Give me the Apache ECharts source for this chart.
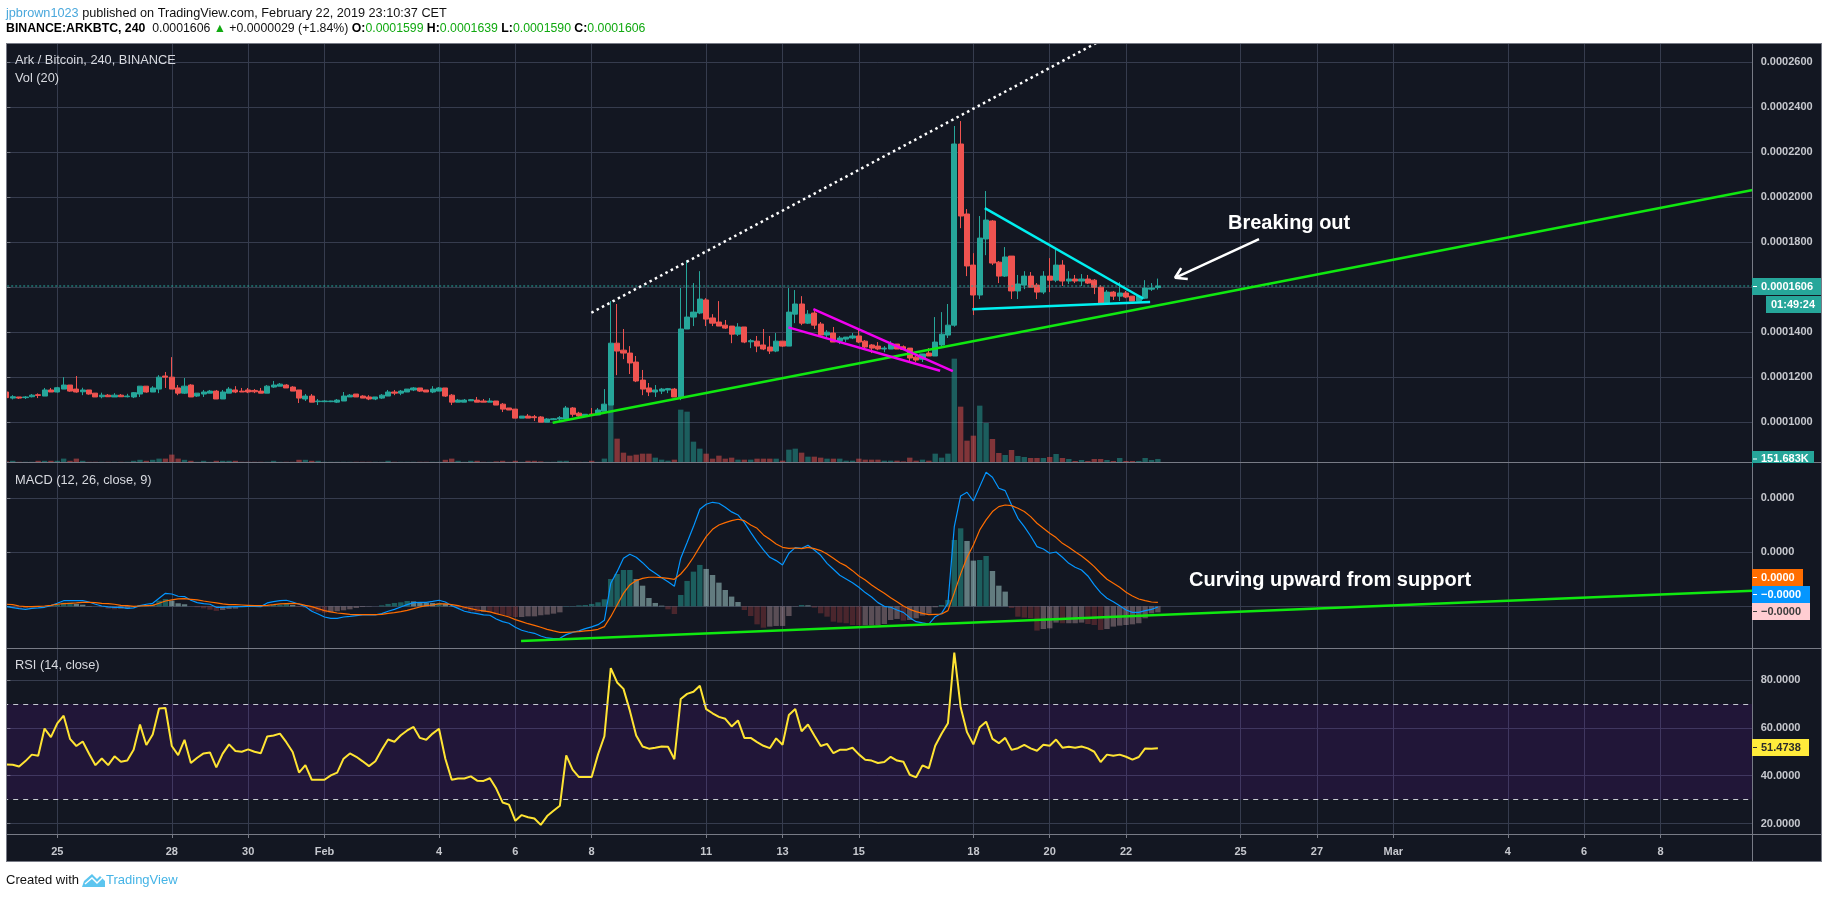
<!DOCTYPE html>
<html><head><meta charset="utf-8">
<style>html,body{margin:0;padding:0;background:#fff}#c{width:1828px;height:898px}</style>
<script src="https://cdn.jsdelivr.net/npm/echarts@6/dist/echarts.min.js"></script>
</head><body><div id="c"></div>
<script>
// All prices and MACD values are in satoshi (1e-8 BTC); volumes in thousands.
const opens=[11350,11080,11130,11100,11140,11230,11170,11440,11350,11480,
11660,11480,11360,11440,11300,11140,11210,11130,11210,11140,
11130,11260,11610,11350,11480,12060,12010,11530,11300,11660,
11170,11260,11300,11390,11040,11300,11440,11390,11440,11420,
11390,11300,11570,11610,11660,11570,11440,11040,11170,10920,
10920,10920,10900,10950,11130,11260,11170,11130,11040,11080,
11170,11350,11300,11350,11440,11530,11440,11350,11390,11530,
11210,10900,10900,10960,10990,10950,10900,10950,10810,10640,
10590,10190,10280,10250,10240,10010,10120,10150,10150,10640,
10410,10280,10370,10330,10500,10770,13520,13210,13080,12680,
11880,11530,11350,11390,11440,11480,11130,14150,14680,14860,
15440,14640,14460,14320,14280,13920,14240,13580,13610,13440,
13350,13170,13610,13390,14810,15260,14410,14860,14370,13880,
13970,13610,13700,13750,13840,13610,13440,13390,13260,13260,
13480,13360,13300,12900,12810,13080,12950,13440,13880,14320,
22370,19260,16990,15660,18150,18950,17120,16500,17390,15840,
16100,16500,16100,15790,16500,16320,16990,16280,16370,16280,
16370,16320,16010,15300,15790,15610,15750,15610,15390,15520,
15920,15990];
const highs=[11350,11210,11130,11170,11260,11290,11530,11530,11580,12010,
11660,12060,11540,11440,11300,11320,11260,11300,11260,11270,
11350,11610,11610,11610,12100,12240,12900,11660,11970,11700,
11300,11440,11440,11440,11440,11570,11610,11530,11530,11480,
11530,11660,11840,11750,11700,11610,11440,11260,11260,11040,
10990,10960,11040,11350,11260,11260,11210,11210,11130,11260,
11440,11440,11440,11480,11570,11530,11440,11610,11570,11530,
11260,11040,11040,11040,11130,11040,11080,10950,10860,10640,
10590,10280,10370,10330,10280,10190,10190,10280,10730,10680,
10470,10360,10640,10640,11480,15390,15260,14150,13390,12950,
12330,11750,11660,11530,11530,11530,15970,17210,16190,16720,
15520,14810,15390,14550,14280,14410,14240,13700,13840,14150,
13840,13970,13610,15970,15880,15610,14990,14950,14460,14100,
14240,13840,13790,13970,14150,13660,13480,13570,13390,13610,
13480,13420,13300,12950,13040,13300,14680,14900,15260,23170,
23390,19480,17520,19170,20280,18990,17170,17790,17390,16550,
16720,16680,16190,16720,17300,17750,17210,16720,16550,16590,
16550,16370,16100,15880,15840,16230,15840,15610,15610,16320,
16190,16390];
const lows=[11100,11020,11040,11040,11110,11080,11170,11350,11330,11480,
11360,11320,11210,11230,11130,11070,11130,11130,11130,11110,
11080,11130,11320,11350,11300,11530,11480,11210,11260,11130,
11130,11130,11300,11040,11040,11300,11300,11350,11300,11300,
11300,11300,11530,11610,11530,11390,10860,10950,10900,10770,
10900,10900,10860,10950,11130,11130,11080,10990,10990,11040,
11170,11210,11210,11350,11390,11350,11350,11300,11390,11130,
10770,10900,10900,10950,10900,10900,10900,10770,10460,10550,
10190,10190,10190,10060,10010,10010,10100,10060,10150,10250,
10210,10280,10310,10330,10500,10770,12100,12810,12150,11790,
11210,11170,11130,11260,11300,11130,10990,14150,14280,14810,
14280,14280,14280,14150,13520,13840,13520,13300,13120,13210,
13040,13120,13350,13390,14410,14320,14370,14150,13840,13750,
13570,13480,13570,13700,13520,13300,13080,13210,13120,13260,
13260,13240,12680,12680,12680,12950,12950,13350,13750,14250,
18630,16500,14770,15480,17430,16990,16190,16460,15480,15480,
15920,16010,15480,15700,15790,16230,16060,16150,16190,16060,
16150,15700,15260,15260,15440,15390,15520,15390,15390,15480,
15840,15900];
const closes=[11100,11140,11080,11130,11210,11200,11440,11350,11540,11660,
11390,11350,11440,11260,11130,11210,11140,11210,11140,11170,
11320,11610,11350,11530,12010,12010,11480,11300,11610,11130,
11300,11350,11390,11040,11350,11480,11350,11350,11350,11360,
11300,11610,11660,11700,11530,11390,11080,11170,10900,10950,
10950,10950,10990,11170,11210,11130,11080,11040,11130,11210,
11350,11300,11390,11480,11530,11390,11350,11480,11530,11170,
10900,10990,10990,11010,10900,10900,10950,10770,10590,10550,
10190,10280,10190,10210,10010,10150,10160,10210,10640,10360,
10280,10360,10330,10550,10810,13520,13170,13080,12640,11840,
11480,11350,11440,11480,11500,11130,14150,14680,14900,15480,
14590,14410,14280,14190,13920,14240,13570,13630,13390,13260,
13170,13610,13390,14900,15260,14410,14810,14320,13880,14010,
13570,13750,13790,13840,13570,13350,13300,13260,13300,13480,
13260,13240,12860,12770,13040,12950,13570,13920,14320,22370,
19170,16950,15660,18190,18990,17080,16500,17350,15840,16150,
16500,16010,15790,16500,16320,16990,16280,16370,16280,16370,
16190,16010,15300,15790,15610,15750,15570,15390,15610,15970,
15970,16060];
const volumes=[30,60,10,10,10,60,60,60,60,170,
60,170,60,10,10,10,10,10,10,10,
60,110,60,110,170,170,370,170,110,60,
10,60,10,60,60,60,60,10,10,10,
10,10,60,10,10,10,110,110,60,60,
10,10,10,10,10,10,10,10,10,10,
60,10,10,10,10,10,10,10,10,110,
170,60,10,60,60,10,10,30,60,10,
60,10,60,60,30,10,10,60,60,10,
10,10,60,10,170,2867,1167,467,317,367,
417,417,217,117,67,117,2617,2517,1017,667,
417,167,317,167,217,117,117,117,167,167,
167,167,67,617,667,467,267,267,217,167,
167,167,67,67,167,117,117,117,67,67,
67,30,217,67,117,67,417,217,417,5167,
2767,1067,1317,2817,1950,1150,450,350,600,300,
250,200,200,200,250,400,200,150,50,100,
50,150,150,100,50,200,50,50,50,200,
100,152];
const macdLine=[-3,-12,-22,-28,-19,-15,-9,6,28,52,
52,52,52,40,19,3,-6,-9,-9,-19,
-15,6,19,28,74,120,114,93,90,56,
34,25,19,-9,-9,-6,-3,-3,0,0,
-3,31,43,52,56,40,19,-3,-46,-71,
-99,-111,-111,-99,-93,-86,-80,-80,-80,-68,
-46,-28,-6,15,34,37,37,46,56,40,
6,-19,-46,-59,-68,-80,-83,-117,-142,-157,
-194,-222,-238,-250,-275,-293,-299,-296,-262,-241,
-228,-207,-191,-170,-130,213,321,445,482,454,
404,346,306,265,228,185,445,590,738,898,
945,963,954,917,874,846,775,685,599,522,
454,423,383,491,543,537,565,522,472,398,
343,287,253,219,176,127,86,34,0,-9,
-34,-56,-105,-142,-154,-164,-96,-65,28,738,
1022,1056,975,1108,1241,1195,1093,1071,938,815,
738,651,553,531,491,503,454,398,361,336,
281,198,127,74,43,6,-34,-56,-56,-40,
-28,-6];
const signalLine=[19,15,3,-3,-3,0,3,9,19,25,
28,31,37,37,34,28,25,19,9,6,
0,3,6,9,28,49,59,68,71,65,
59,49,40,31,22,15,15,12,9,6,
6,9,15,22,25,28,22,9,-3,-22,
-40,-52,-62,-68,-74,-77,-77,-77,-77,-74,
-65,-59,-49,-37,-22,-6,6,12,22,22,
15,6,-9,-22,-34,-43,-52,-68,-83,-99,
-123,-142,-161,-176,-194,-213,-228,-241,-241,-238,
-235,-228,-222,-213,-188,-96,12,120,198,238,
259,269,269,265,259,250,299,367,454,553,
645,713,753,775,793,806,793,753,722,661,
620,577,546,537,540,534,546,534,516,485,
445,404,374,330,281,244,198,157,120,80,
43,3,-28,-49,-65,-77,-74,-71,-40,124,
300,451,568,707,800,877,923,938,932,908,
877,830,769,722,676,636,583,546,506,466,
420,367,306,250,213,176,130,96,68,52,
40,37];
const histogram=[-3,-15,-22,-12,-9,-3,0,3,15,34,
34,22,15,3,0,-9,-22,-28,-22,-22,
-3,12,12,19,52,68,52,28,19,0,
-9,-19,-31,-43,-34,-25,-22,-6,-3,-3,
-6,3,12,15,22,12,-6,-12,-43,-49,
-59,-56,-46,-37,-28,-15,-6,-3,0,9,
22,31,37,49,46,37,34,31,31,22,
3,-15,-28,-46,-56,-52,-56,-71,-80,-93,
-99,-99,-93,-93,-83,-77,-68,-56,3,3,
9,12,22,37,65,253,299,336,336,253,
191,77,31,6,-28,-71,105,235,321,383,
346,290,219,151,90,40,-34,-90,-167,-198,
-188,-182,-182,-90,-3,12,9,-12,-65,-96,
-142,-151,-157,-173,-176,-176,-176,-173,-164,-127,
-117,-133,-127,-111,-86,-68,-9,12,59,614,
722,605,423,429,466,327,191,136,-15,-96,
-105,-111,-225,-210,-204,-151,-157,-157,-157,-151,
-164,-173,-219,-210,-188,-179,-173,-167,-157,-111,
-65,-56];
const rsi=[44.7,44.6,43.8,46.1,48.8,48.3,59.7,56.1,61.9,65.1,
55.4,52.4,54.3,49.2,44.4,47.2,44.4,48.1,45.8,46.3,
50.8,61.4,52.8,57.2,68.1,68.3,52.4,48.6,55.0,45.3,
47.5,49.3,49.7,43.5,49.2,53.1,50.3,50.0,51.0,50.0,
49.4,56.4,56.8,57.6,54.0,49.9,41.3,44.4,38.3,38.3,
38.3,40.1,41.3,47.1,49.3,47.9,46.0,44.0,46.0,50.8,
55.1,54.2,56.9,58.9,60.4,55.8,55.0,57.6,59.6,47.1,
38.3,38.8,38.8,39.7,37.9,37.8,38.9,34.6,28.8,27.9,
21.1,23.5,22.6,22.1,19.4,23.1,25.3,27.4,48.5,42.5,
39.4,39.4,39.4,48.9,56.5,85.0,79.0,76.3,67.2,56.8,
52.2,51.3,51.7,52.2,52.1,46.9,72.1,74.2,75.1,77.6,
67.8,66.1,64.6,63.8,60.6,63.1,55.8,55.8,54.0,52.5,
51.5,55.6,52.9,65.4,67.9,58.6,61.4,56.8,52.4,53.3,
49.4,50.8,50.8,51.7,48.9,46.7,46.3,45.3,45.7,47.9,
46.3,45.8,40.4,39.3,44.3,43.1,52.5,57.5,61.9,91.5,
68.6,58.2,53.1,60.3,62.6,55.4,53.6,55.8,50.8,51.5,
52.9,51.4,50.4,52.9,52.5,55.1,51.7,52.1,51.7,52.2,
51.4,50.0,45.7,48.8,48.3,48.8,47.9,46.7,47.8,51.4,
51.3,51.47];

const barCount=275;
const barIndex=Array.from({length:barCount},(_,i)=>String(i));
const dateTickBars=[8,26,38,50,68,80,92,110,122,134,152,164,176,194,206,218,236,248,260];
const dateTickLabels=['25','28','30','Feb','4','6','8','11','13','15','18','20','22','25','27','Mar','4','6','8'];
const priceTicks=[10000,12000,14000,16000,18000,20000,22000,24000,26000];
const macdTicks=[0,500,1000];
const rsiTicks=[20,40,60,80];

// Drawn trendlines: [bar, value] pairs
const dottedTrend=[[91.95,14871],[175,27413]];
const supportTrend=[[85.87,9982],[274.5,20324]];
const pinkUpper=[[126.85,15035],[148.77,12280]];
const pinkLower=[[122.92,14222],[146.77,12293]];
const cyanUpper=[[153.8,19524],[178.73,15493]];
const cyanLower=[[151.85,15022],[179.78,15346]];
const arrowLine=[[196.9,18146],[183.7,16426],[184.66,16857],[183.7,16426],[185.7,16368]];
const lastPriceLine=[[-0.5,16060],[274.5,16060]];
const macdSupport=[[80.9,-321],[274.5,144]];

const BG='#131722',GRID='#363c4e',AX='#787b86',TXT='#d8dae0',AXT='#c6c8ce',UP='#26a69a',DOWN='#ef5350';
const FONT='"Liberation Sans",Arial,sans-serif';
const chart=echarts.init(document.getElementById('c'),null,{renderer:'canvas'});

const candles=opens.map((o,i)=>[o,closes[i],lows[i],highs[i]]);
const volumeBars=volumes.map((v,i)=>({value:v,itemStyle:{color:closes[i]>=opens[i]?'rgba(38,166,154,0.5)':'rgba(239,83,80,0.5)'}}));
const histBars=histogram.map((v,i)=>{
  const prev=i?histogram[i-1]:0;let c;
  if(v>=0) c=v>=prev?'rgba(38,166,154,0.5)':'rgba(178,223,219,0.5)';
  else c=v<prev?'rgba(239,83,80,0.25)':'rgba(255,205,210,0.3)';
  return {value:v,itemStyle:{color:c}};
});

function catAxis(g){return {type:'category',gridIndex:g,data:barIndex,show:false,boundaryGap:true};}
function valAxis(g,labels){return {type:'value',gridIndex:g,min:-0.5,max:274.5,position:'bottom',
  axisLine:{show:false},
  axisTick:{show:labels,length:4,lineStyle:{color:AX},customValues:dateTickBars},
  splitLine:{show:true,lineStyle:{color:GRID,width:1}},
  axisLabel:{show:labels,customValues:dateTickBars,margin:12,color:AXT,fontSize:11,fontWeight:'bold',fontFamily:FONT,hideOverlap:false,
    showMinLabel:true,showMaxLabel:true,
    formatter:v=>dateTickLabels[dateTickBars.indexOf(v)]||''}};}
function priceAxis(g,min,max,ticks,fmt){return {type:'value',gridIndex:g,position:'right',min,max,
  axisLine:{show:false},
  axisTick:{show:true,length:4,lineStyle:{color:AX},customValues:ticks},
  splitLine:{show:true,lineStyle:{color:GRID,width:1}},
  axisLabel:{customValues:ticks,margin:8,color:AXT,fontSize:11,fontWeight:'bold',fontFamily:FONT,formatter:fmt,showMinLabel:true,showMaxLabel:true}};}
function tline(x,y,data,color,width,extra){return {type:'line',xAxisIndex:x,yAxisIndex:y,data,showSymbol:false,symbol:'none',silent:true,clip:true,
  animation:false,z:6,lineStyle:Object.assign({color,width},extra||{})};}

// Static page furniture
const el=[];
function rect(x,y,w,h,fill,z){el.push({type:'rect',shape:{x,y,width:w,height:h},style:{fill},z:z==null?1000:z,silent:true});}
function text(x,y,t,o){el.push({type:'text',x,y,z:1010,silent:true,style:Object.assign({text:t,fill:TXT,font:'12px '+FONT,verticalAlign:'middle'},o||{})});}
rect(6,43,1815,818,BG,-5);
rect(0,0,6,898,'#ffffff');
// value tags
function tag(x,y,w,h,fill,t,color){rect(x,y,w,h,fill,1002);rect(1753,y+h/2-0.5,4,1,color,1003);text(1761,y+h/2,t,{fill:color,font:'bold 11px '+FONT});}
tag(1752,278,69,17,UP,'0.0001606','#ffffff');
rect(1766,296,55,17,UP,1002);text(1771,304.5,'01:49:24',{fill:'#ffffff',font:'bold 11px '+FONT});
tag(1752,451,62,16,UP,'151.683K','#ffffff');
rect(1753,463,68,14,BG,1004);
tag(1752,569,51,17,'#ff6d00','0.0000','#ffffff');
tag(1752,586,58,17,'#0496ff','\u22120.0000','#ffffff');
tag(1752,603,58,17,'#ffcdd2','\u22120.0000','#3b3b3b');
tag(1752,739,57,17,'#ffeb3b','51.4738','#2b2b2b');
// frame
rect(6,43,1816,1,AX);rect(6,861,1816,1,AX);rect(6,43,1,819,AX);rect(1821,43,1,819,AX);
rect(1752,43,1,819,AX);rect(6,462,1816,1,AX);rect(6,648,1816,1,AX);rect(6,834,1816,1,AX);
// pane titles
text(15,60,'Ark / Bitcoin, 240, BINANCE',{font:'12.8px '+FONT});
text(15,78,'Vol (20)',{font:'12.8px '+FONT});
text(15,480,'MACD (12, 26, close, 9)',{font:'12.8px '+FONT});
text(15,665,'RSI (14, close)',{font:'12.8px '+FONT});
// annotations
text(1228,223,'Breaking out',{fill:'#ffffff',font:'bold 20px '+FONT});
text(1189,580,'Curving upward from support',{fill:'#ffffff',font:'bold 20px '+FONT});
// header
const G='#11a911';
el.push({type:'text',x:6,y:13,z:1010,silent:true,style:{text:'{b|jpbrown1023}{k| published on TradingView.com, February 22, 2019 23:10:37 CET}',verticalAlign:'middle',
  rich:{b:{fill:'#4aa8dc',font:'12.7px '+FONT},k:{fill:'#111111',font:'12.7px '+FONT}}}});
el.push({type:'text',x:6,y:29,z:1010,silent:true,style:{text:'{h|BINANCE:ARKBTC, 240}{k|  0.0001606 }{g|\u25B2}{k| +0.0000029 (+1.84%) }{h|O:}{g|0.0001599} {h|H:}{g|0.0001639} {h|L:}{g|0.0001590} {h|C:}{g|0.0001606}',verticalAlign:'middle',
  rich:{h:{fill:'#000000',font:'bold 12.3px '+FONT},k:{fill:'#111111',font:'12.3px '+FONT},g:{fill:G,font:'12.3px '+FONT}}}});
// footer
text(6,880,'Created with',{fill:'#111111',font:'13px '+FONT});
el.push({type:'polygon',z:1010,silent:true,shape:{points:[[82,887],[84,881],[92,874],[97,879],[100,876],[105,881],[105,887]]},style:{fill:'#5cc5ef'}});
el.push({type:'polyline',z:1011,silent:true,shape:{points:[[85,884],[92,878],[97,883],[102,878]]},style:{stroke:'#ffffff',lineWidth:1.5,fill:'none'}});
text(106,880,'TradingView',{fill:'#45b4e6',font:'13px '+FONT});

chart.setOption({
  animation:false,backgroundColor:'#ffffff',textStyle:{fontFamily:FONT},
  grid:[{left:3.2,width:1749.5,top:43,height:419},{left:3.2,width:1749.5,top:462,height:186},{left:3.2,width:1749.5,top:648,height:186}],
  xAxis:[catAxis(0),valAxis(0,false),catAxis(1),valAxis(1,false),catAxis(2),valAxis(2,true)],
  yAxis:[
    priceAxis(0,8240,26858,priceTicks,v=>(v/1e8).toFixed(7)),
    {type:'value',gridIndex:0,min:0,max:20950,show:false},
    priceAxis(1,-386,1336,macdTicks,v=>(v/1e8).toFixed(4)),
    priceAxis(2,15.6,93.4,rsiTicks,v=>v.toFixed(4))
  ],
  graphic:{elements:el},
  series:[
    {type:'bar',name:'Vol',xAxisIndex:0,yAxisIndex:1,data:volumeBars,barWidth:5.4,z:2,silent:true},
    {type:'candlestick',name:'Ark / Bitcoin',xAxisIndex:0,yAxisIndex:0,data:candles,barWidth:5.6,z:3,silent:true,
      itemStyle:{color:UP,color0:DOWN,borderColor:UP,borderColor0:DOWN,borderWidth:1}},
    tline(1,0,lastPriceLine,UP,1,{type:[2,2]}),
    tline(1,0,dottedTrend,'#ffffff',2.5,{type:[2.5,3.5]}),
    tline(1,0,supportTrend,'#10e810',2.5),
    tline(1,0,pinkUpper,'#f000f0',2.5),
    tline(1,0,pinkLower,'#f000f0',2.5),
    tline(1,0,cyanUpper,'#00f0f0',2.5),
    tline(1,0,cyanLower,'#00f0f0',2.5),
    tline(1,0,arrowLine,'#ffffff',2.5),
    {type:'bar',name:'Histogram',xAxisIndex:2,yAxisIndex:2,data:histBars,barWidth:5.4,z:2,silent:true},
    {type:'line',name:'MACD',xAxisIndex:2,yAxisIndex:2,data:macdLine,showSymbol:false,symbol:'none',silent:true,z:4,lineStyle:{color:'#0496ff',width:1.2}},
    {type:'line',name:'Signal',xAxisIndex:2,yAxisIndex:2,data:signalLine,showSymbol:false,symbol:'none',silent:true,z:4,lineStyle:{color:'#ff6d00',width:1.2}},
    tline(3,2,macdSupport,'#10e810',2.5),
    {type:'line',name:'RSI',xAxisIndex:4,yAxisIndex:3,data:rsi,showSymbol:false,symbol:'none',silent:true,z:4,lineStyle:{color:'#ffe433',width:2},
      markArea:{silent:true,itemStyle:{color:'rgba(153,21,255,0.1)'},data:[[{yAxis:30},{yAxis:70}]]},
      markLine:{silent:true,symbol:'none',label:{show:false},lineStyle:{color:'#c5c8d0',type:[5,5],width:1},data:[{yAxis:70},{yAxis:30}]}}
  ]
});
</script></body></html>
